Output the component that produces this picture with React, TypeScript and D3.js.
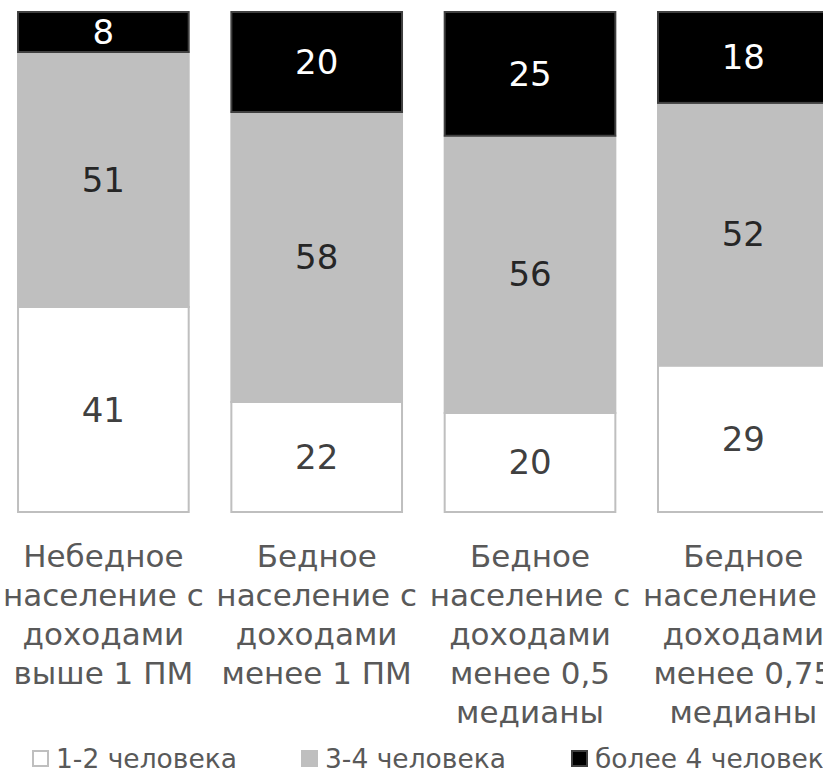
import React from "react";
import * as d3 from "d3";

const categories = ["c1", "c2", "c3", "c4"];
const categoryLines = [
  ["Небедное", "население с", "доходами", "выше 1 ПМ"],
  ["Бедное", "население с", "доходами", "менее 1 ПМ"],
  ["Бедное", "население с", "доходами", "менее 0,5", "медианы"],
  ["Бедное", "население с", "доходами", "менее 0,75", "медианы"],
];
const seriesNames = ["1-2 человека", "3-4 человека", "более 4 человек"];
const small = [41, 22, 20, 29];
const medium = [51, 58, 56, 52];
const large = [8, 20, 25, 18];

const fills = ["#ffffff", "#bfbfbf", "#000000"];
const strokes = ["#bfbfbf", "#bfbfbf", "#404040"];
const labelColors = ["#404040", "#262626", "#ffffff"];

const W = 823;
const H = 771;
const FONT = "'DejaVu Sans', sans-serif";

export default function App() {
  const rows = categories.map((c, i) => ({ cat: c, s0: small[i], s1: medium[i], s2: large[i] }));
  const keys = ["s0", "s1", "s2"];
  const stacked = d3.stack<any>().keys(keys).offset(d3.stackOffsetExpand)(rows);

  const x = d3.scaleBand<string>().domain(categories).range([-3.3, 850]).paddingInner(0.2).paddingOuter(0.1);
  const y = d3.scaleLinear().domain([0, 1]).range([512, 12]);
  const raw = [small, medium, large];

  const lineStart = 567;
  const lineGap = 39;

  const legendX = [33, 302, 572];
  const legendY = 768;

  return (
    <div style={{ position: "absolute", left: 0, top: 0 }}>
      <svg width={W} height={H} style={{ display: "block", background: "#fff" }}>
        {stacked.map((layer, si) => (
          <g key={si}>
            {layer.map((d, ci) => {
              const x0 = x(categories[ci])!;
              const y0 = y(d[1]);
              const h = y(d[0]) - y(d[1]);
              return (
                <rect
                  key={ci}
                  x={x0}
                  y={y0}
                  width={x.bandwidth()}
                  height={h}
                  fill={fills[si]}
                  stroke={strokes[si]}
                  strokeWidth={2}
                />
              );
            })}
          </g>
        ))}
        {stacked.map((layer, si) => (
          <g key={"l" + si}>
            {layer.map((d, ci) => (
              <text
                key={ci}
                x={x(categories[ci])! + x.bandwidth() / 2}
                y={(y(d[0]) + y(d[1])) / 2}
                textAnchor="middle"
                dominantBaseline="central"
                fontFamily={FONT}
                fontSize={34}
                fill={labelColors[si]}
              >
                {raw[si][ci]}
              </text>
            ))}
          </g>
        ))}
        {categoryLines.map((lines, ci) => (
          <text
            key={"c" + ci}
            textAnchor="middle"
            fontFamily={FONT}
            fontSize={31}
            fill="#595959"
          >
            {lines.map((ln, li) => (
              <tspan key={li} x={x(categories[ci])! + x.bandwidth() / 2} y={lineStart + li * lineGap}>
                {ln}
              </tspan>
            ))}
          </text>
        ))}
        {seriesNames.map((n, si) => (
          <g key={"g" + si}>
            <rect
              x={legendX[si]}
              y={legendY - 17}
              width={15}
              height={15}
              fill={fills[si]}
              stroke={strokes[si]}
              strokeWidth={2}
            />
            <text x={legendX[si] + 23} y={legendY} fontFamily={FONT} fontSize={26.5} fill="#595959">
              {n}
            </text>
          </g>
        ))}
      </svg>
    </div>
  );
}
